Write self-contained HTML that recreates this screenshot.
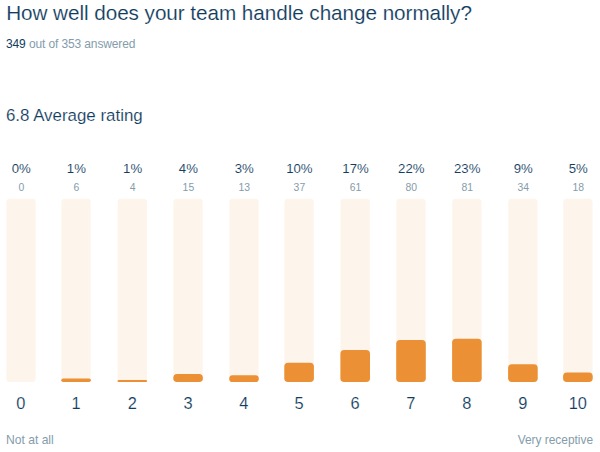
<!DOCTYPE html>
<html><head><meta charset="utf-8"><title>Rating</title>
<style>
html,body{margin:0;padding:0;background:#fff;}
body{width:600px;height:452px;position:relative;overflow:hidden;font-family:"Liberation Sans",sans-serif;color:#113c5e;}
#t{-webkit-text-stroke:0.15px #fff;position:absolute;left:6.2px;top:0.6px;font-size:20.7px;line-height:24px;white-space:nowrap;letter-spacing:-0.05px;color:#113c5e;}
#s{position:absolute;left:6px;top:36.7px;font-size:12px;letter-spacing:-0.12px;line-height:14px;white-space:nowrap;color:#849cab;}
#s b{font-weight:normal;color:#113c5e;}
#r{-webkit-text-stroke:0.15px #fff;position:absolute;left:5.9px;top:106.2px;font-size:16.9px;line-height:20px;white-space:nowrap;color:#113c5e;}
.c{position:absolute;top:0;width:29.4px;height:452px;}
.c div{position:absolute;}
.p{-webkit-text-stroke:0.1px #fff;left:-15px;width:60px;text-align:center;top:161.7px;font-size:13.2px;line-height:14px;color:#113c5e;}
.n{left:-15px;width:60px;text-align:center;top:181.6px;font-size:10.4px;line-height:12px;color:#849cab;}
.a{-webkit-text-stroke:0.15px #fff;left:-15.4px;width:60px;text-align:center;top:393px;font-size:16.4px;line-height:20px;color:#113c5e;}
#l{position:absolute;left:6px;top:433px;font-size:12.1px;line-height:14px;color:#849cab;white-space:nowrap;}
#v{position:absolute;right:7px;top:432.7px;font-size:11.9px;line-height:14px;color:#849cab;white-space:nowrap;}
</style></head><body>
<div id="t">How well does your team handle change normally?</div>
<div id="s"><b>349</b> out of 353 answered</div>
<div id="r">6.8 Average rating</div>
<svg width="600" height="452" viewBox="0 0 600 452" style="position:absolute;left:0;top:0"><rect x="6.35" y="198.7" width="29.3" height="183.40" rx="3.5" fill="#fdf4eb"/>
<rect x="61.45" y="198.7" width="29.3" height="183.40" rx="3.5" fill="#fdf4eb"/>
<rect x="61.30" y="378.50" width="29.6" height="3.60" rx="1.80" fill="#eb9034"/>
<rect x="117.65" y="198.7" width="29.3" height="183.40" rx="3.5" fill="#fdf4eb"/>
<rect x="117.50" y="379.90" width="29.6" height="2.20" rx="1.10" fill="#eb9034"/>
<rect x="173.45" y="198.7" width="29.3" height="183.40" rx="3.5" fill="#fdf4eb"/>
<rect x="173.30" y="374.12" width="29.6" height="7.98" rx="3.80" fill="#eb9034"/>
<rect x="229.35" y="198.7" width="29.3" height="183.40" rx="3.5" fill="#fdf4eb"/>
<rect x="229.20" y="375.17" width="29.6" height="6.93" rx="3.47" fill="#eb9034"/>
<rect x="284.45" y="198.7" width="29.3" height="183.40" rx="3.5" fill="#fdf4eb"/>
<rect x="284.30" y="362.66" width="29.6" height="19.44" rx="3.80" fill="#eb9034"/>
<rect x="340.55" y="198.7" width="29.3" height="183.40" rx="3.5" fill="#fdf4eb"/>
<rect x="340.40" y="349.94" width="29.6" height="32.16" rx="3.80" fill="#eb9034"/>
<rect x="396.35" y="198.7" width="29.3" height="183.40" rx="3.5" fill="#fdf4eb"/>
<rect x="396.20" y="340.06" width="29.6" height="42.04" rx="3.80" fill="#eb9034"/>
<rect x="452.25" y="198.7" width="29.3" height="183.40" rx="3.5" fill="#fdf4eb"/>
<rect x="452.10" y="338.78" width="29.6" height="43.32" rx="3.80" fill="#eb9034"/>
<rect x="508.25" y="198.7" width="29.3" height="183.40" rx="3.5" fill="#fdf4eb"/>
<rect x="508.10" y="364.13" width="29.6" height="17.97" rx="3.80" fill="#eb9034"/>
<rect x="563.25" y="198.7" width="29.3" height="183.40" rx="3.5" fill="#fdf4eb"/>
<rect x="563.10" y="372.54" width="29.6" height="9.56" rx="3.80" fill="#eb9034"/></svg>
<div class="c" style="left:6.30px">
<div class="p m">0%</div><div class="n m">0</div>
<div class="a m">0</div></div>
<div class="c" style="left:61.40px">
<div class="p m">1%</div><div class="n m">6</div>
<div class="a m">1</div></div>
<div class="c" style="left:117.60px">
<div class="p m">1%</div><div class="n m">4</div>
<div class="a m">2</div></div>
<div class="c" style="left:173.40px">
<div class="p m">4%</div><div class="n m">15</div>
<div class="a m">3</div></div>
<div class="c" style="left:229.30px">
<div class="p m">3%</div><div class="n m">13</div>
<div class="a m">4</div></div>
<div class="c" style="left:284.40px">
<div class="p m">10%</div><div class="n m">37</div>
<div class="a m">5</div></div>
<div class="c" style="left:340.50px">
<div class="p m">17%</div><div class="n m">61</div>
<div class="a m">6</div></div>
<div class="c" style="left:396.30px">
<div class="p m">22%</div><div class="n m">80</div>
<div class="a m">7</div></div>
<div class="c" style="left:452.20px">
<div class="p m">23%</div><div class="n m">81</div>
<div class="a m">8</div></div>
<div class="c" style="left:508.20px">
<div class="p m">9%</div><div class="n m">34</div>
<div class="a m">9</div></div>
<div class="c" style="left:563.20px">
<div class="p m">5%</div><div class="n m">18</div>
<div class="a m">10</div></div>
<div id="l">Not at all</div>
<div id="v">Very receptive</div>
</body></html>
